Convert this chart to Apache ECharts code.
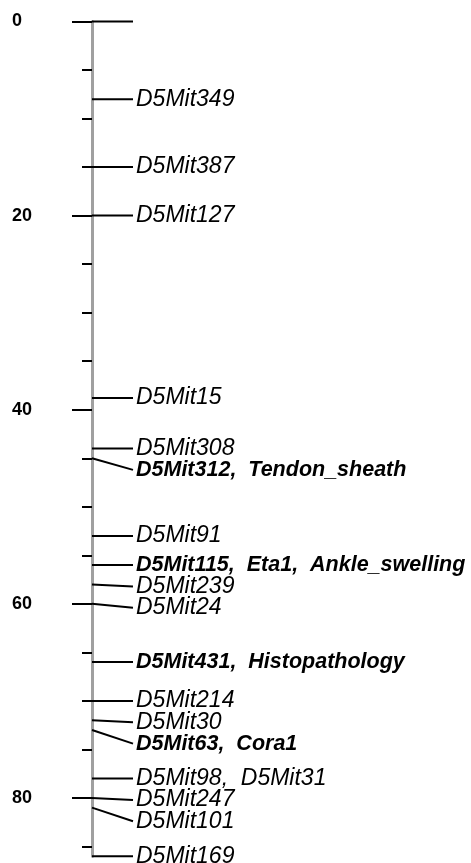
<!DOCTYPE html>
<html><head><meta charset="utf-8">
<script src="https://cdn.jsdelivr.net/npm/echarts@6/dist/echarts.min.js"></script>
<style>html,body{margin:0;padding:0;background:#fff}#c{width:471px;height:863px}</style>
</head><body><div id="c"></div>
<script>
// ---- data (cM positions on chromosome 5) ----
const markerNames = ['', 'D5Mit349', 'D5Mit387', 'D5Mit127', 'D5Mit15', 'D5Mit308',
  'D5Mit312,  Tendon_sheath', 'D5Mit91', 'D5Mit115,  Eta1,  Ankle_swelling', 'D5Mit239',
  'D5Mit24', 'D5Mit431,  Histopathology', 'D5Mit214', 'D5Mit30', 'D5Mit63,  Cora1',
  'D5Mit98,  D5Mit31', 'D5Mit247', 'D5Mit101', 'D5Mit169'];
const markerPos = [0, 8, 15, 20, 38.8, 44, 45, 53, 56, 58, 60, 66, 70, 72, 73, 78, 80, 81, 86];
const highlighted = ['D5Mit312', 'D5Mit115', 'D5Mit431', 'D5Mit63'];
const tickValues = [0, 20, 40, 60, 80];
const tickLabels = ['0', '20', '40', '60', '80'];
const minorTickValues = [5, 10, 15, 25, 30, 35, 45, 50, 55, 65, 70, 75, 85];
const mapEnd = 86;

// label de-overlap (in cM units)
const LABEL_GAP = 2.2;
const labelPos = [];
markerPos.forEach((p, i) => { labelPos.push(i === 0 ? p : Math.max(p, labelPos[i - 1] + LABEL_GAP)); });

const FONT = '"Liberation Sans", Arial, sans-serif';
const chart = echarts.init(document.getElementById('c'));
chart.setOption({
  animation: false,
  backgroundColor: '#fff',
  grid: { left: 92, right: 0, top: 21.5, bottom: 6.8, containLabel: false, outerBoundsMode: 'none' },
  xAxis: { type: 'value', show: false, min: 0, max: 1 },
  yAxis: [{
    type: 'value', inverse: true, min: 0, max: mapEnd, position: 'left',
    axisLine: { show: true, lineStyle: { color: '#a0a0a0', width: 3 } },
    axisTick: { show: true, customValues: tickValues, length: 20, lineStyle: { color: '#000', width: 2 } },
    axisLabel: { show: true, customValues: tickValues, formatter: v => tickLabels[tickValues.indexOf(v)],
      align: 'left', margin: 80, fontSize: 18, fontWeight: 'bold', color: '#000', fontFamily: FONT },
    splitLine: { show: false }
  }, {
    type: 'value', inverse: true, min: 0, max: mapEnd, position: 'left', offset: 0,
    axisLine: { show: false },
    axisTick: { show: true, customValues: minorTickValues, length: 10, lineStyle: { color: '#000', width: 2 } },
    axisLabel: { show: false },
    splitLine: { show: false }
  }],
  series: [{
    type: 'custom',
    clip: false,
    xAxisIndex: 0, yAxisIndex: 0,
    encode: { x: 0, y: 1 },
    data: markerNames.map((n, i) => [0, markerPos[i], labelPos[i], i]),
    renderItem: function (params, api) {
      const i = api.value(3);
      const a = api.coord([0, api.value(1)]);
      const b = api.coord([0, api.value(2)]);
      const name = markerNames[i];
      const bold = highlighted.some(h => name.indexOf(h + ',') === 0);
      const children = [{
        type: 'line',
        shape: { x1: a[0], y1: a[1], x2: a[0] + 41, y2: b[1] },
        style: { stroke: '#000', lineWidth: 2 }
      }];
      if (name) {
        children.push({
          type: 'text', x: a[0] + 44, y: b[1],
          style: { text: name, fill: '#000', fontStyle: 'italic', fontWeight: bold ? 'bold' : 'normal',
            fontSize: bold ? 21.5 : 23, fontFamily: FONT, align: 'left', verticalAlign: 'middle' }
        });
      }
      return { type: 'group', children: children };
    }
  }]
});
</script>
</body></html>
